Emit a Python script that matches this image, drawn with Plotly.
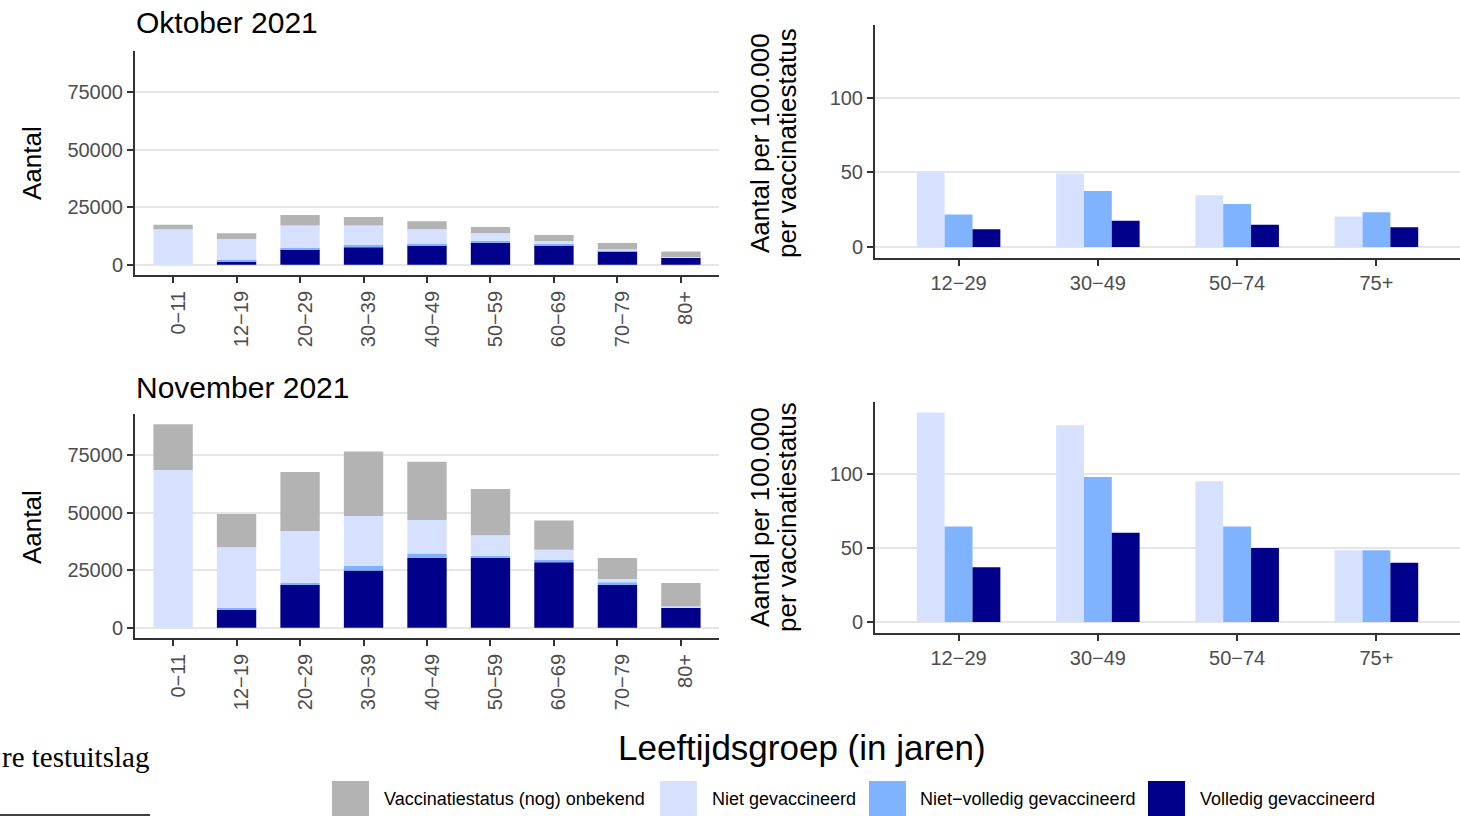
import numpy as np
import plotly.graph_objects as go

W, H = 1460, 816

# ---------------- data ----------------
age_left = ["0−11", "12−19", "20−29", "30−39", "40−49", "50−59", "60−69", "70−79", "80+"]
age_right = ["12−29", "30−49", "50−74", "75+"]

series_names = ["Vaccinatiestatus (nog) onbekend", "Niet gevaccineerd",
                "Niet−volledig gevaccineerd", "Volledig gevaccineerd"]
series_colors = ["#B3B3B3", "#D6E1FF", "#80B3FF", "#00008B"]

# Oktober 2021 - counts
okt_volledig = [0, 1600, 6600, 7600, 8500, 9500, 8500, 5900, 3100]
okt_nietvolledig = [0, 700, 800, 1000, 800, 1000, 600, 400, 100]
okt_niet = [15400, 8900, 9700, 8500, 6100, 3200, 1200, 500, 200]
okt_onbekend = [2000, 2500, 4500, 3700, 3500, 2700, 2600, 2700, 2400]

# November 2021 - counts
nov_volledig = [0, 7900, 18600, 24900, 30300, 30300, 28500, 18600, 8700]
nov_nietvolledig = [0, 800, 900, 1900, 2000, 1000, 900, 1200, 300]
nov_niet = [68500, 26300, 22500, 21700, 14500, 8900, 4500, 1400, 400]
nov_onbekend = [19900, 14400, 25600, 28000, 25300, 20100, 12700, 9100, 10100]

# Per 100.000 per vaccinatiestatus
okt_rate_niet = [50.4, 49.3, 34.7, 20.4]
okt_rate_nietvolledig = [21.8, 37.6, 28.9, 23.3]
okt_rate_volledig = [11.8, 17.6, 14.9, 13.3]

nov_rate_niet = [141.6, 133.0, 95.1, 48.5]
nov_rate_nietvolledig = [64.6, 98.0, 64.6, 48.5]
nov_rate_volledig = [37.0, 60.3, 50.1, 40.0]

left_ticks = [0, 25000, 50000, 75000]
right_ticks = [0, 50, 100]

# ---------------- figure ----------------
fig = go.Figure()

def px_x(p):
    return p / W

def px_y(p):
    return 1 - p / H

def add_stack(xax, yax, vol, nvol, niet, onb):
    layers = [(vol, 3), (nvol, 2), (niet, 1), (onb, 0)]
    base = np.zeros(len(age_left))
    for vals, idx in layers:
        v = np.array(vals, dtype=float)
        fig.add_trace(go.Bar(
            x=age_left, y=v, base=base.copy(), width=0.62,
            marker=dict(color=series_colors[idx], line=dict(width=0)),
            name=series_names[idx], showlegend=False,
            xaxis=xax, yaxis=yax,
        ))
        base = base + v

def add_group(xax, yax, niet, nvol, vol):
    for vals, idx, off in [(niet, 1, -0.3), (nvol, 2, -0.1), (vol, 3, 0.1)]:
        fig.add_trace(go.Bar(
            x=age_right, y=vals, width=0.2, offset=off,
            marker=dict(color=series_colors[idx], line=dict(width=0)),
            name=series_names[idx], showlegend=False,
            xaxis=xax, yaxis=yax,
        ))

add_stack("x", "y", okt_volledig, okt_nietvolledig, okt_niet, okt_onbekend)
add_group("x2", "y2", okt_rate_niet, okt_rate_nietvolledig, okt_rate_volledig)
add_stack("x3", "y3", nov_volledig, nov_nietvolledig, nov_niet, nov_onbekend)
add_group("x4", "y4", nov_rate_niet, nov_rate_nietvolledig, nov_rate_volledig)

tick_font = dict(family="Liberation Sans, Arial, sans-serif", size=20, color="#4D4D4D")
axis_common = dict(showline=True, linecolor="#333333", linewidth=2,
                   ticks="outside", ticklen=6, tickwidth=1.5, tickcolor="#333333",
                   tickfont=tick_font, zeroline=False, fixedrange=True)

left_x_dom = [px_x(135), px_x(719)]
right_x_dom = [px_x(875), 1.0]

fig.update_layout(
    width=W, height=H, autosize=False,
    margin=dict(l=0, r=0, t=0, b=0),
    paper_bgcolor="white", plot_bgcolor="white",
    barmode="overlay",
    font=dict(family="Liberation Sans, Arial, sans-serif", color="black"),
    xaxis=dict(domain=left_x_dom, anchor="y", type="category", range=[-0.6, 8.6],
               tickangle=-90, ticklabelshift=5, showgrid=False, **axis_common),
    yaxis=dict(domain=[px_y(275), px_y(51)], anchor="x", range=[-4420, 92820],
               tickvals=left_ticks, ticktext=[str(t) for t in left_ticks],
               showgrid=True, gridcolor="#E6E6E6", gridwidth=1.5, **axis_common),
    xaxis2=dict(domain=right_x_dom, anchor="y2", type="category", range=[-0.6, 3.6],
                showgrid=False, **axis_common),
    yaxis2=dict(domain=[px_y(257.5), px_y(25.4)], anchor="x2", range=[-7.08, 148.7],
                tickvals=right_ticks, ticktext=[str(t) for t in right_ticks],
                showgrid=True, gridcolor="#E6E6E6", gridwidth=1.5, **axis_common),
    xaxis3=dict(domain=left_x_dom, anchor="y3", type="category", range=[-0.6, 8.6],
                tickangle=-90, ticklabelshift=5, showgrid=False, **axis_common),
    yaxis3=dict(domain=[px_y(638), px_y(414)], anchor="x3", range=[-4420, 92820],
                tickvals=left_ticks, ticktext=[str(t) for t in left_ticks],
                showgrid=True, gridcolor="#E6E6E6", gridwidth=1.5, **axis_common),
    xaxis4=dict(domain=right_x_dom, anchor="y4", type="category", range=[-0.6, 3.6],
                showgrid=False, **axis_common),
    yaxis4=dict(domain=[px_y(632.5), px_y(402)], anchor="x4", range=[-7.08, 148.7],
                tickvals=right_ticks, ticktext=[str(t) for t in right_ticks],
                showgrid=True, gridcolor="#E6E6E6", gridwidth=1.5, **axis_common),
)

ann = []
def text(x, y, s, size, xanchor="center", angle=0, family=None, color="black"):
    f = dict(size=size, color=color)
    if family:
        f["family"] = family
    ann.append(dict(x=x, y=y, xref="paper", yref="paper", text=s, showarrow=False,
                    xanchor=xanchor, yanchor="middle", textangle=angle, font=f))

text(px_x(134), px_y(22), "Oktober 2021", 30, xanchor="left")
text(px_x(134), px_y(387), "November 2021", 30, xanchor="left")
text(px_x(32), px_y(163), "Aantal", 26, angle=-90)
text(px_x(32), px_y(527), "Aantal", 26, angle=-90)
for yc in (143, 517):
    text(px_x(760), px_y(yc), "Aantal per 100.000", 26, angle=-90)
    text(px_x(787), px_y(yc), "per vaccinatiestatus", 26, angle=-90)
text(px_x(802), px_y(747), "Leeftijdsgroep (in jaren)", 35)
text(0, px_y(757), "re testuitslag", 29, xanchor="left",
     family="Liberation Serif, DejaVu Serif, serif")

# legend (manual, large keys)
key_x = [332, 660, 869, 1148]
txt_x = [382, 710, 918, 1198]
shapes = []
for i in range(4):
    shapes.append(dict(type="rect", xref="paper", yref="paper",
                       x0=px_x(key_x[i]), x1=px_x(key_x[i] + 37),
                       y0=px_y(818), y1=px_y(781),
                       fillcolor=series_colors[i], line=dict(width=0)))
    text(px_x(txt_x[i]), px_y(799), series_names[i], 18, xanchor="left")

shapes.append(dict(type="line", xref="paper", yref="paper",
                   x0=0, x1=px_x(150), y0=px_y(815), y1=px_y(815),
                   line=dict(color="black", width=1.5)))

fig.update_layout(annotations=ann, shapes=shapes)

fig.write_html("out.html", config={"displayModeBar": False},
               post_script="document.body.style.margin='0px';document.body.style.overflow='hidden';")
